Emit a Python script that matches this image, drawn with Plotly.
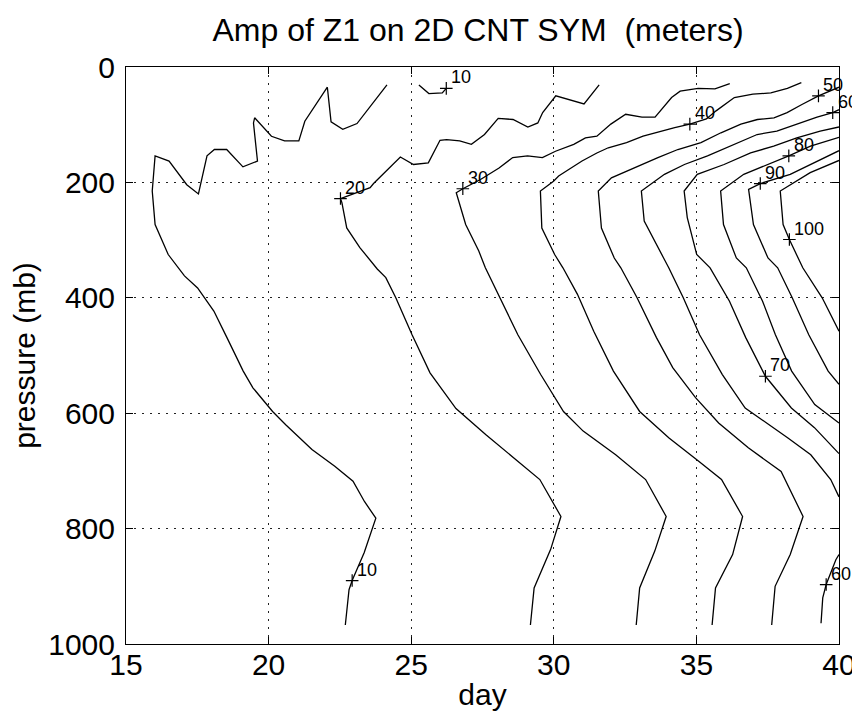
import plotly.graph_objects as go

# ---- contour lines (day, pressure in mb) ----
c10a_day = [24.15, 23.10, 22.60, 22.19, 22.06, 21.27, 21.06, 20.56, 20.10, 19.59, 19.51, 19.47,
            19.61, 19.10, 18.53, 18.10, 17.84, 17.54, 17.13, 16.51, 16.02, 15.92, 16.02, 16.48,
            16.86, 17.05, 17.51, 18.08, 18.54, 19.11, 19.45, 20.14, 20.60, 21.52, 22.32, 22.96,
            23.36, 23.76, 23.35, 22.93, 22.82, 22.69]
c10a_p = [31, 98, 108, 95, 35, 94, 128, 128, 120, 91, 88, 97,
          163, 173, 143, 143, 154, 220, 204, 163, 154, 215, 273, 325,
          350, 362, 383, 423, 469, 527, 556, 597, 620, 663, 692, 718,
          753, 782, 842, 890, 906, 967]

c10b_day = [25.27, 25.62, 26.09, 26.23]
c10b_p = [31, 46, 45, 37]

c20_day = [31.59, 31.06, 30.07, 29.61, 29.44, 29.09, 28.57, 28.05, 27.57, 27.11, 26.70, 26.24,
           26.01, 25.60, 25.08, 24.62, 23.68, 23.56, 22.52, 22.57, 22.74, 23.20, 23.81, 24.11,
           24.46, 25.03, 25.66, 26.17, 26.57, 27.61, 28.58, 29.51, 30.25, 29.89, 29.31, 29.18]
c20_p = [31, 64, 50, 79, 97, 104, 91, 89, 117, 134, 128, 126,
         127, 166, 169, 156, 202, 209, 228, 235, 279, 313, 350, 365,
         400, 464, 530, 565, 592, 637, 677, 715, 779, 836, 903, 967]

c30_day = [36.17, 35.65, 35.06, 34.43, 34.13, 33.55, 33.09, 32.52, 32.00, 31.51, 31.11, 30.70,
           30.06, 29.60, 29.08, 28.56, 28.08, 27.43, 26.81, 26.58, 26.91, 27.37, 27.60, 28.11,
           28.74, 29.54, 30.34, 31.03, 32.17, 33.22, 33.94, 33.54, 33.01, 32.89]
c30_p = [29, 38, 37, 42, 53, 87, 87, 82, 99, 120, 123, 134,
         146, 157, 154, 157, 175, 195, 211, 218, 273, 319, 348, 400,
         464, 533, 597, 631, 672, 715, 779, 839, 903, 967]

c40_day = [38.68, 38.19, 37.61, 36.98, 36.33, 35.69, 35.35, 34.77, 34.24, 33.54, 33.13, 32.55,
           31.91, 31.51, 30.99, 30.51, 30.17, 29.99, 29.53, 29.58, 30.03, 30.32, 30.83, 31.40,
           32.09, 33.01, 34.04, 35.07, 35.88, 36.62, 36.27, 35.67, 35.55]
c40_p = [27, 37, 45, 47, 53, 76, 90, 99, 105, 114, 120, 131,
         140, 149, 163, 178, 189, 198, 215, 279, 325, 348, 394, 458,
         527, 597, 643, 683, 715, 779, 845, 903, 967]

c50_day = [40.00, 39.28, 38.70, 38.18, 37.72, 37.14, 36.56, 35.86, 35.16, 34.35, 33.65, 32.83,
           32.02, 31.56, 31.67, 32.12, 32.35, 32.92, 33.60, 34.17, 34.97, 35.78, 36.82, 37.97,
           38.74, 38.29, 37.76, 37.64]
c50_p = [35, 50, 65, 79, 88, 91, 99, 114, 131, 143, 157, 175,
         192, 215, 279, 331, 348, 400, 469, 521, 573, 617, 660, 701,
         779, 845, 900, 967]

c60a_day = [40.00, 39.78, 39.23, 38.53, 37.82, 37.13, 36.20, 35.39, 34.58, 33.88, 33.07, 33.17,
            33.85, 34.03, 34.54, 35.11, 35.91, 36.71, 38.21, 39.01, 39.71, 40.00]
c60a_p = [74, 79, 87, 99, 111, 117, 137, 154, 169, 186, 215, 267,
          331, 348, 400, 464, 533, 591, 643, 672, 715, 745]

c60b_day = [40.00, 39.89, 39.55, 39.43, 39.37]
c60b_p = [845, 854, 897, 920, 964]

c70_day = [40.00, 39.34, 38.52, 37.71, 36.90, 35.97, 35.03, 34.57, 34.68, 35.01, 35.48, 36.16,
           36.73, 37.42, 38.33, 39.14, 40.00]
c70_p = [104, 111, 123, 137, 149, 169, 186, 215, 261, 325, 348, 406,
         469, 536, 591, 625, 670]

c80_day = [40.00, 39.00, 38.24, 37.48, 36.66, 35.85, 35.95, 36.40, 36.75, 37.32, 37.77, 38.34,
           39.15, 40.00]
c80_p = [122, 137, 154, 169, 186, 215, 273, 331, 348, 406, 464, 527, 585, 617]

c90_day = [40.00, 38.99, 38.29, 37.24, 36.83, 37.00, 37.51, 37.85, 38.36, 38.94, 39.62, 40.00]
c90_p = [145, 169, 186, 202, 212, 273, 331, 348, 400, 464, 527, 550]

c100_day = [40.00, 38.99, 37.94, 38.04, 38.26, 38.73, 39.41, 40.00]
c100_p = [162, 183, 215, 273, 299, 348, 400, 458]

# ---- contour labels ('+' position and value) ----
label_text = ["10", "10", "20", "30", "40", "50", "60", "60", "70", "80", "90", "100"]
label_day = [26.23, 22.93, 22.52, 26.81, 34.77, 39.28, 39.78, 39.55, 37.42, 38.24, 37.24, 38.26]
label_p = [37, 890, 228, 211, 99, 50, 79, 897, 536, 154, 202, 299]

# ---- axes ----
x_ticks = [15, 20, 25, 30, 35, 40]
y_ticks = [0, 200, 400, 600, 800, 1000]

FONT = "Liberation Sans, Arial, Helvetica, sans-serif"

lines = [
    (c10a_day, c10a_p), (c10b_day, c10b_p), (c20_day, c20_p), (c30_day, c30_p),
    (c40_day, c40_p), (c50_day, c50_p), (c60a_day, c60a_p), (c60b_day, c60b_p),
    (c70_day, c70_p), (c80_day, c80_p), (c90_day, c90_p), (c100_day, c100_p),
]

fig = go.Figure()
for xd, yp in lines:
    fig.add_trace(go.Scatter(x=xd, y=yp, mode="lines",
                             line=dict(color="black", width=1.3),
                             hoverinfo="skip", showlegend=False))

fig.add_trace(go.Scatter(x=label_day, y=label_p, mode="markers",
                         marker=dict(symbol="cross-thin", size=9,
                                     line=dict(color="black", width=1.2)),
                         cliponaxis=False, showlegend=False, hoverinfo="skip"))

for t, xd, yp in zip(label_text, label_day, label_p):
    fig.add_annotation(x=xd, y=yp, text=t, showarrow=False, xanchor="left",
                       yanchor="middle", xshift=3, yshift=11,
                       font=dict(family=FONT, size=18, color="#000000"))

axis_common = dict(
    showline=True, linecolor="black", linewidth=1, mirror="allticks",
    ticks="inside", ticklen=7, tickcolor="black", tickwidth=1,
    showgrid=True, gridcolor="#222222", gridwidth=1, griddash="2px,6px",
    zeroline=False, tickfont=dict(family=FONT, size=30, color="black"),
)

fig.update_xaxes(range=[15, 40], tickvals=x_ticks, ticktext=[str(v) for v in x_ticks],
                 ticklabelstandoff=-6,
                 title=dict(text="day", font=dict(family=FONT, size=30, color="black"), standoff=3),
                 **axis_common)
fig.update_yaxes(range=[1000, 0], tickvals=y_ticks, ticktext=[str(v) for v in y_ticks],
                 ticklabelstandoff=4,
                 title=dict(text="pressure (mb)", font=dict(family=FONT, size=30, color="black"), standoff=4),
                 **axis_common)

fig.update_layout(
    width=860, height=713,
    margin=dict(l=118, r=22, t=59, b=77),
    paper_bgcolor="white", plot_bgcolor="white",
    title=dict(text="Amp of Z1 on 2D CNT SYM\u00a0\u00a0(meters)",
               font=dict(family=FONT, size=32, color="black"),
               x=470 / 860, xanchor="center", y=1 - 22 / 713, yanchor="middle",
               xref="container", yref="container"),
    showlegend=False,
)

fig.write_html("out.html")
